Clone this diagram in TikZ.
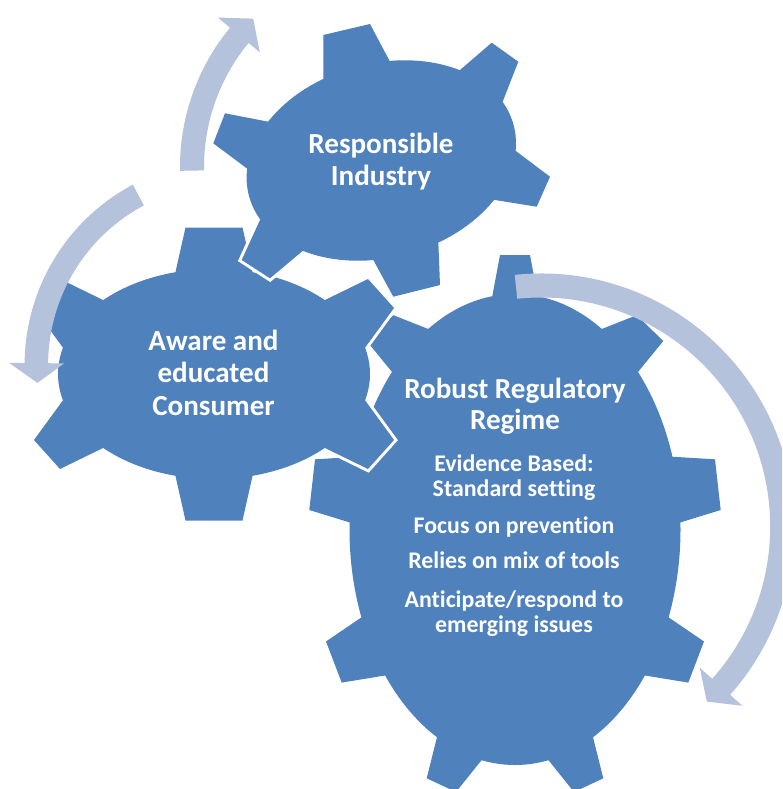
\documentclass[tikz,border=0pt]{standalone}
\usepackage{fontspec}
\setmainfont{Carlito}[Ligatures=NoCommon]
\usetikzlibrary{calc}
\definecolor{gearblue}{RGB}{79,129,189}
\definecolor{arrowblue}{RGB}{180,194,220}
\tikzset{
  gearfill/.style={fill=gearblue},
  gearline/.style={draw=white, fill=white, line width=4.5pt, line join=miter},
  cyclearrow/.style={fill=arrowblue},
  gtext/.style={text=white, font=\bfseries\fontsize{21.8}{24}\selectfont, anchor=base, inner sep=0pt},
  btext/.style={text=white, font=\bfseries\fontsize{17.9}{18}\selectfont, anchor=base, inner sep=0pt},
}
% tooth: style, base1, tip1, tip2, base2 (sides extended inward into the body)
\newcommand\gtooth[5]{\path[#1] (#3) -- (#4) -- ($(#5)!-0.5!(#4)$) -- ($(#2)!-0.5!(#3)$) -- cycle;}
% top gear (6 teeth, rotated body)
\newcommand\gearTop[1]{%
  \path[#1, rotate around={15:(381.3,160.5)}] (381.3,160.5) ellipse [x radius=137, y radius=97];
  \gtooth{#1}{323.3,80}{323.3,35}{370,24}{390,61.7}
  \gtooth{#1}{460,70}{491.7,42.7}{518.3,61.7}{503.3,100}
  \gtooth{#1}{516.7,151.7}{550,176.7}{536.7,206.7}{495,200}
  \gtooth{#1}{438.3,241.7}{440,285}{393.3,296.7}{373.3,260}
  \gtooth{#1}{301.7,251.7}{270,278.3}{241.7,260}{260,220}
  \gtooth{#1}{246.7,168.3}{213.3,143.3}{225,113.3}{268.3,121.7}
}
% left gear (6 teeth)
\newcommand\gearLeft[1]{%
  \path[#1] (214,374) ellipse [x radius=156, y radius=105];
  \gtooth{#1}{175.5,272}{185.5,227.5}{242.5,227.5}{252.5,272}
  \gtooth{#1}{325,300}{368,279}{394,308}{367,345}
  \gtooth{#1}{367,403}{394,440}{368,469}{325,448}
  \gtooth{#1}{252.5,476}{242.5,520.5}{185.5,520.5}{175.5,476}
  \gtooth{#1}{103,448}{60,469}{34,440}{61,403}
  \gtooth{#1}{61,345}{34,308}{60,279}{103,300}
}
% right gear (9 teeth)
\newcommand\gearRight[1]{%
  \path[#1] (515,529.5) ellipse [x radius=165.5, y radius=235.5];
  \gtooth{#1}{492.5,295}{500,255}{530,255}{537.5,295}
  \gtooth{#1}{601.7,329}{636.7,315.2}{663.3,341}{638.3,371.6}
  \gtooth{#1}{671.7,456.7}{715,459.3}{720.7,510}{680.7,522.3}
  \gtooth{#1}{669.5,618}{704,641.5}{688.3,682.6}{645,675.5}
  \gtooth{#1}{593.3,738.3}{603.3,778.3}{574,792}{548.3,760}
  \gtooth{#1}{481.7,760}{456,792}{426.7,778.3}{436.7,738.3}
  \gtooth{#1}{385,675.5}{341.7,682.6}{326,641.5}{360.5,618}
  \gtooth{#1}{349.3,522.3}{309.3,510}{315,459.3}{358.3,456.7}
  \gtooth{#1}{391.7,371.6}{366.7,341}{393.3,315.2}{428.3,329}
}
\begin{document}
\begin{tikzpicture}[x=0.75pt, y=-0.75pt]
\useasboundingbox (0,0) rectangle (782,789);
\clip (0,0) rectangle (782,789);
% gears, back to front
\gearRight{gearfill}
\gearLeft{gearline}
\gearLeft{gearfill}
\gearTop{gearline}
\gearTop{gearfill}
% labels
\node[gtext] (t1a) at (381,153) {Responsible};
\node[gtext] (t1b) at (381,185) {Industry};
\node[gtext] (t2a) at (213.5,350) {Aware and};
\node[gtext] (t2b) at (213.5,382) {educated};
\node[gtext] (t2c) at (213.5,415) {Consumer};
\node[gtext] (t3a) at (515,398) {Robust Regulatory};
\node[gtext] (t3b) at (515,429.5) {Regime};
\node[btext] (b1a) at (514,471.5) {Evidence Based:};
\node[btext] (b1b) at (514,496.5) {Standard setting};
\node[btext] (b2) at (514,533) {Focus on prevention};
\node[btext] (b3) at (514,568.5) {Relies on mix of tools};
\node[btext] (b4a) at (514,607) {Anticipate/respond to};
\node[btext] (b4b) at (514,632) {emerging issues};
% circular arrows
\coordinate (a1c) at (399,167);
\coordinate (a2c) at (228.6,364.8);
\coordinate (a3c) at (541.2,526.5);
\fill[cyclearrow] ($(a1c)+(-181:219)$) arc[start angle=-181, end angle=-140.5, radius=219]
  -- ($(a1c)+(-140.5:235)$) -- ($(a1c)+(-134.5:208)$) -- ($(a1c)+(-140.5:180.5)$)
  -- ($(a1c)+(-140.5:195)$) arc[start angle=-140.5, end angle=-181, radius=195] -- cycle;
\fill[cyclearrow] ($(a2c)+(-118:204)$) arc[start angle=-118, end angle=-179.5, radius=204]
  -- ($(a2c)+(-179.5:219.5)$) -- ($(a2c)+(-185.4:192)$) -- ($(a2c)+(-179.5:164.5)$)
  -- ($(a2c)+(-179.5:180.5)$) arc[start angle=-179.5, end angle=-118, radius=180.5] -- cycle;
\fill[cyclearrow] ($(a3c)+(-96:253)$) arc[start angle=-96, end angle=41.7, radius=253]
  -- ($(a3c)+(41.7:269.5)$) -- ($(a3c)+(46.6:241)$) -- ($(a3c)+(41.7:212.5)$)
  -- ($(a3c)+(41.7:229)$) arc[start angle=41.7, end angle=-96, radius=229] -- cycle;
\end{tikzpicture}
\end{document}
